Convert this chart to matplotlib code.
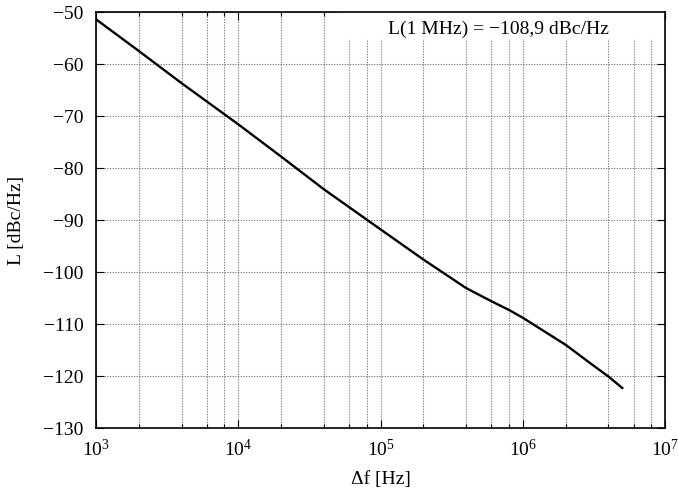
"""Phase noise L(delta f) of the oscillator, gnuplot-like style."""
import matplotlib

matplotlib.use("Agg")
import matplotlib.pyplot as plt
from matplotlib.patches import Rectangle
from matplotlib.ticker import LogLocator, NullFormatter

plt.rcParams["font.family"] = ["Liberation Serif", "DejaVu Serif"]
plt.rcParams["mathtext.fontset"] = "custom"
plt.rcParams["mathtext.rm"] = "Liberation Serif"
plt.rcParams["font.size"] = 14

# values
offset_hz = [1e3, 2e3, 4e3, 1e4, 2e4, 4e4, 1e5, 2e5, 4e5, 6e5, 8e5,
             1e6, 2e6, 3e6, 4e6, 5e6]
phase_noise = [-51.4, -57.5, -63.7, -71.6, -77.8, -84.1, -91.8, -97.6,
               -103.1, -105.6, -107.3, -108.8, -114.0, -117.6, -120.1, -122.3]
label_text = "L(1 MHz) = \u2212108,9 dBc/Hz"
y_ticks = [-130, -120, -110, -100, -90, -80, -70, -60, -50]

fig = plt.figure(figsize=(6.78, 4.92), dpi=100)
ax = fig.add_axes([0.1416, 0.130, 0.8394, 0.8456])

ax.plot(offset_hz, phase_noise, color="black", lw=1.7, zorder=3,
        solid_joinstyle="round")

ax.set_xscale("log")
ax.set_xlim(1e3, 1e7)
ax.set_ylim(-130, -50)
ax.set_yticks(y_ticks)
ax.xaxis.set_major_locator(LogLocator(base=10, numticks=10))
ax.xaxis.set_minor_locator(LogLocator(base=10, subs=(2, 4, 6, 8), numticks=10))
ax.xaxis.set_minor_formatter(NullFormatter())

grid_style = dict(color="#808080", linestyle=(0, (1.2, 1.2)), lw=0.8)
ax.grid(True, which="major", axis="both", **grid_style)
ax.grid(True, which="minor", axis="x", **grid_style)

ax.tick_params(which="major", direction="in", length=6, width=0.8,
               top=True, right=True, labelsize=14)
ax.tick_params(which="minor", direction="in", length=3, width=0.8,
               top=True, right=False)
ax.tick_params(axis="y", pad=9)
ax.tick_params(axis="x", pad=8)
for s in ax.spines.values():
    s.set_linewidth(1.2)

# white key box hiding the grid behind the annotation (below the spines)
ax.add_patch(Rectangle((0.43, 0.934), 0.57, 0.066, transform=ax.transAxes,
                       facecolor="white", edgecolor="none", zorder=2))
ax.text(0.7065, 0.959, label_text, transform=ax.transAxes, ha="center",
        va="center", fontsize=14, zorder=4)

ax.set_xlabel("\u0394f [Hz]", fontsize=14, labelpad=8)
ax.set_ylabel("L [dBc/Hz]", fontsize=14, labelpad=13)

fig.savefig("out.png", dpi=100)
